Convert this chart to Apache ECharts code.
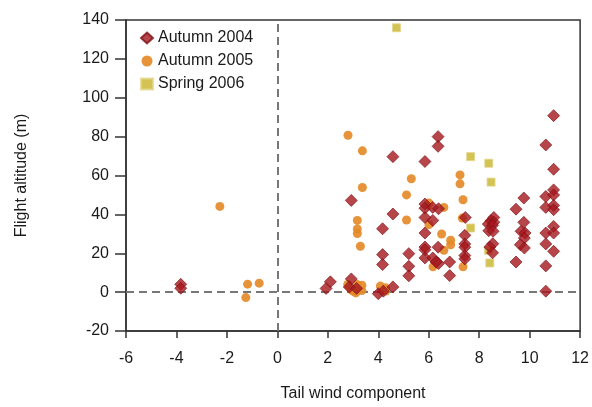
<!DOCTYPE html>
<html>
<head>
<meta charset="utf-8">
<script src="https://cdn.jsdelivr.net/npm/echarts@6/dist/echarts.min.js"></script>
<style>
  html, body { margin: 0; padding: 0; background: #fff; }
  #chart { width: 592px; height: 407px; }
</style>
</head>
<body>
<div id="chart"></div>
<script>
// tail wind component vs flight altitude (m)
var autumn2004 = [
    [-3.83, 4], [-3.83, 2],
    [1.93, 1.9], [2.10, 5.3],
    [2.93, 47.2], [2.93, 6.8], [2.85, 2.6], [3.14, 1.9],
    [4.0, -0.8], [4.2, 0.5], [4.58, 2.7],
    [4.17, 32.6], [4.17, 19.3], [4.17, 14.2],
    [4.58, 40.2], [4.58, 69.7],
    [5.21, 19.8], [5.21, 13.3], [5.21, 8.4],
    [5.85, 67.2], [6.37, 80], [6.37, 75],
    [5.85, 45.3], [5.85, 43.2], [5.85, 38.4], [5.85, 30.4], [5.85, 23.2], [5.85, 21.8], [5.85, 17.6],
    [6.16, 43.6], [6.39, 42.9], [6.16, 36.9], [6.16, 17.6], [6.37, 23.1], [6.39, 14.7], [6.29, 15.5],
    [6.83, 15.5], [6.83, 8.5],
    [7.45, 38.4], [7.43, 29.2], [7.43, 24.8], [7.43, 23.1], [7.43, 18.8], [7.43, 17.1],
    [8.58, 38.4], [8.47, 36.7], [8.58, 36], [8.36, 35], [8.53, 34.4], [8.38, 31.6], [8.55, 31.3],
    [8.54, 24.9], [8.42, 23.2], [8.53, 20.2],
    [9.77, 48.4], [9.46, 42.7], [9.77, 35.9], [9.66, 31.3], [9.82, 30.4], [9.79, 27.8],
    [9.63, 24.4], [9.79, 22.7], [9.46, 15.5],
    [10.95, 90.8], [10.64, 75.7], [10.95, 63.2], [10.95, 52.6], [10.64, 49.2], [10.95, 50],
    [10.64, 43.6], [10.95, 44.6], [10.95, 42.4], [10.95, 33.8], [10.64, 30.4], [10.95, 30.4],
    [10.64, 24.8], [10.95, 21], [10.64, 13.5], [10.64, 0.5]
];
var autumn2005 = [
    [-2.28, 44.1], [-1.18, 4.1], [-0.72, 4.6], [-1.25, -2.8],
    [2.80, 80.7], [3.37, 72.7], [3.37, 53.8], [3.17, 36.9], [3.17, 32.5], [3.17, 30.1], [3.29, 23.6],
    [2.79, 3.9], [2.92, 1.3], [3.11, -0.4], [3.35, 3.6], [3.35, 0.8], [3.16, 3.9], [3.0, 0.5],
    [4.08, 3.1], [4.29, 2.2], [4.3, 0.6],
    [5.31, 58.3], [5.12, 50], [5.12, 37.1],
    [6.01, 45.8], [6.60, 43.6], [6.01, 34.7], [6.51, 29.9], [6.87, 26.7], [6.87, 24.4], [6.60, 21.5], [6.17, 13],
    [7.24, 60.3], [7.24, 55.7], [7.36, 47.5], [7.33, 38.1], [7.36, 13]
];
var spring2006 = [
    [4.72, 136], [7.66, 69.7], [8.38, 66.3], [8.47, 56.6], [7.66, 33], [8.42, 15], [8.37, 21.5]
];
var seriesNames = ['Autumn 2004', 'Autumn 2005', 'Spring 2006'];

var chart = echarts.init(document.getElementById('chart'));
var font = 'Liberation Sans, Arial, Helvetica, sans-serif';

var option = {
    animation: false,
    textStyle: { fontFamily: font },
    grid: {
        left: 126, right: 10, top: 20, bottom: 74,
        show: true, borderColor: '#333', borderWidth: 1.5
    },
    legend: {
        orient: 'vertical',
        left: 135, top: 25,
        itemGap: 7,
        itemWidth: 12, itemHeight: 11,
        data: seriesNames,
        textStyle: { fontFamily: font, fontSize: 16, color: '#1a1a1a' }
    },
    xAxis: {
        type: 'value',
        min: -6, max: 12, interval: 2,
        name: 'Tail wind component',
        nameLocation: 'middle',
        nameGap: 55,
        nameTextStyle: { fontFamily: font, fontSize: 16, color: '#1a1a1a' },
        axisLine: { onZero: false, lineStyle: { color: '#333', width: 1.5 } },
        axisTick: { length: 7, lineStyle: { color: '#333', width: 1.5 } },
        axisLabel: { margin: 20, fontFamily: font, fontSize: 16, color: '#1a1a1a' },
        splitLine: { show: false }
    },
    yAxis: {
        type: 'value',
        min: -20, max: 140, interval: 20,
        name: 'Flight altitude (m)',
        nameLocation: 'middle',
        nameGap: 96,
        nameTextStyle: { fontFamily: font, fontSize: 16, color: '#1a1a1a' },
        axisLine: { onZero: false, lineStyle: { color: '#333', width: 1.5 } },
        axisTick: { length: 11, lineStyle: { color: '#333', width: 1.5 } },
        axisLabel: { margin: 17, fontFamily: font, fontSize: 16, color: '#1a1a1a' },
        splitLine: { show: false }
    },
    series: [
        {
            name: seriesNames[0],
            type: 'scatter',
            symbol: 'diamond',
            symbolSize: 12,
            z: 4,
            itemStyle: { color: '#a5181e', borderColor: '#7d1014', borderWidth: 0.8 },
            data: autumn2004
        },
        {
            name: seriesNames[1],
            type: 'scatter',
            symbol: 'circle',
            symbolSize: 9,
            z: 3,
            itemStyle: { color: '#e58a28', opacity: 0.92 },
            data: autumn2005,
            markLine: {
                silent: true,
                symbol: 'none',
                z: 1,
                label: { show: false },
                lineStyle: { color: '#777', type: [8, 5], width: 2, opacity: 1 },
                emphasis: { disabled: true },
                data: [{ xAxis: 0 }, { yAxis: 0 }]
            }
        },
        {
            name: seriesNames[2],
            type: 'scatter',
            symbol: 'rect',
            symbolSize: 8,
            z: 2,
            itemStyle: { color: '#c8b42a', borderColor: '#e3d68c', borderWidth: 1 },
            data: spring2006
        }
    ]
};

chart.setOption(option);
</script>
</body>
</html>
